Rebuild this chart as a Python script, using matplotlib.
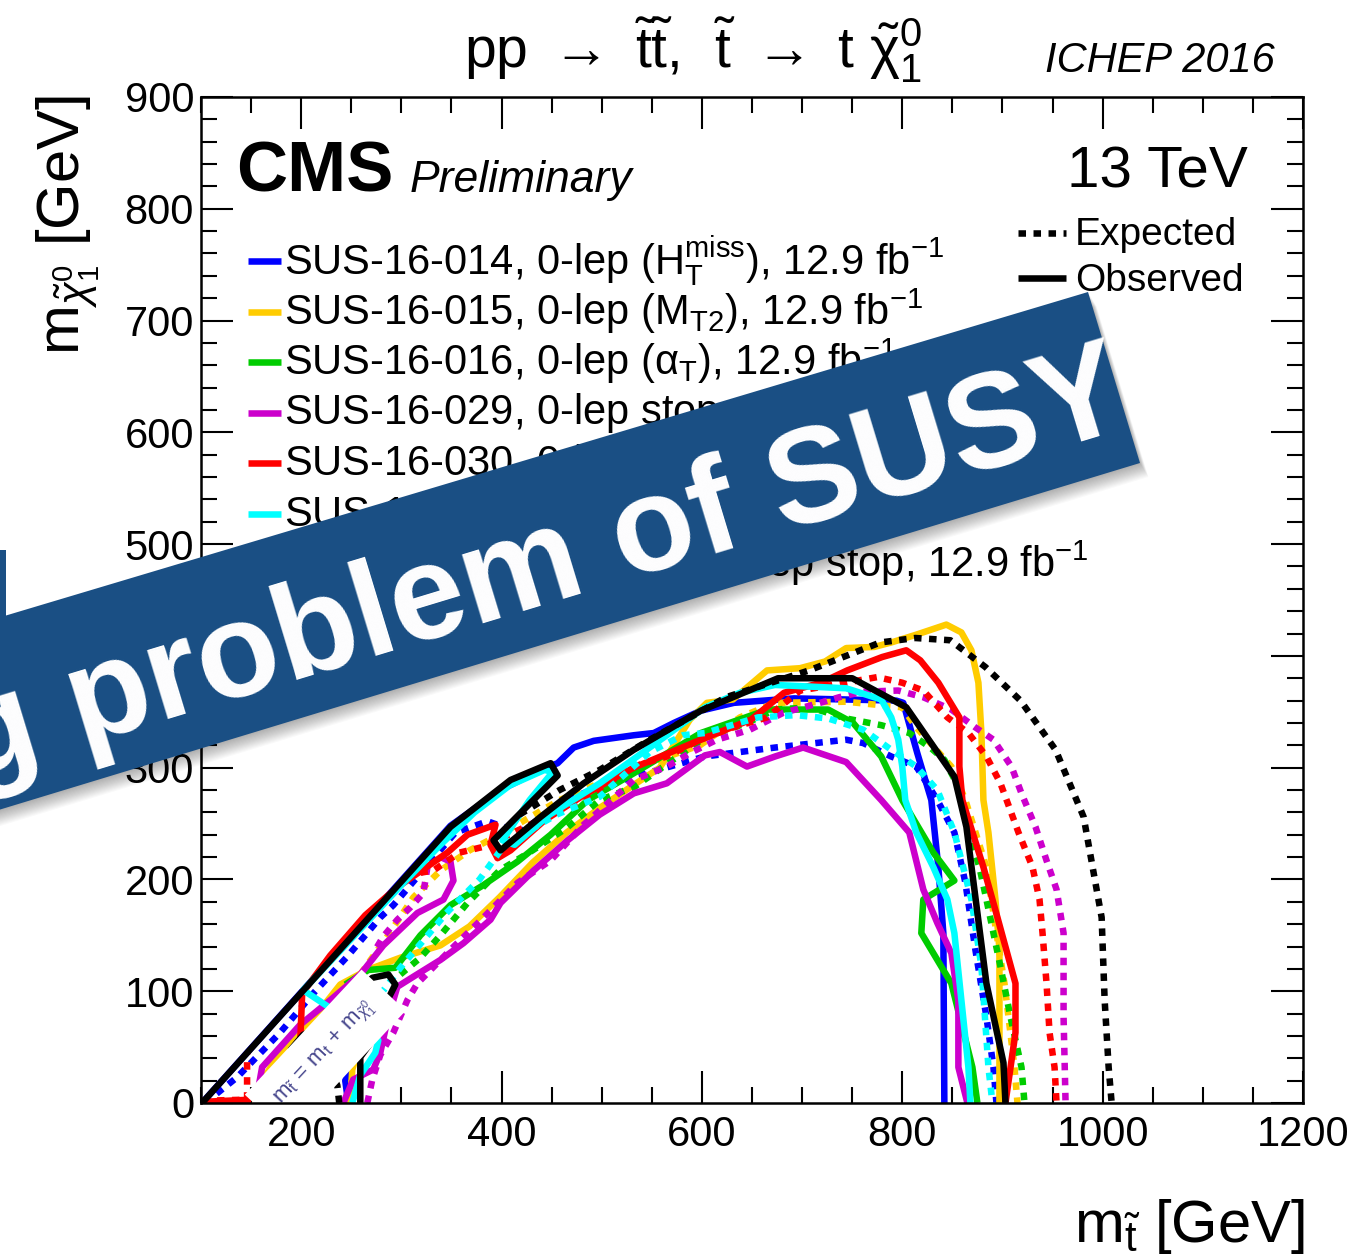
import matplotlib
matplotlib.use("Agg")
import matplotlib.pyplot as plt
import matplotlib.transforms as mtransforms
from matplotlib.lines import Line2D
from matplotlib.patches import Polygon
from matplotlib.ticker import MultipleLocator

W, H, DPI = 1367, 1257, 100

plt.rcParams['font.family'] = ['Liberation Sans', 'DejaVu Sans']
plt.rcParams['mathtext.fontset'] = 'custom'
plt.rcParams['mathtext.rm'] = 'Liberation Sans'
plt.rcParams['mathtext.it'] = 'Liberation Sans:italic'
plt.rcParams['mathtext.bf'] = 'Liberation Sans:bold'
plt.rcParams['mathtext.sf'] = 'Liberation Sans'

# ---------------- exclusion contours (m_stop, m_LSP) in GeV ----------------
# SUS-16-014 (blue)
blue_obs_x = [101, 349, 399, 439, 456, 472, 492, 532, 552, 572, 599, 632, 692, 794, 801, 815, 829, 836, 841, 842]
blue_obs_y = [0, 248, 280, 298, 304, 318, 324, 329, 331, 340, 351, 358, 362, 360, 358, 313, 271, 211, 152, 0]
blue_obs2_x = [247, 244, 251, 267]
blue_obs2_y = [0, 20, 43, 52]
blue_exp_x = [104, 136, 179, 212, 246, 279, 292, 329, 354, 386, 418, 465, 498, 533, 568, 603, 638, 673, 744,
              761, 789, 814, 835, 852, 863, 873, 884, 891, 894]
blue_exp_y = [0, 23, 63, 98, 131, 166, 177, 216, 242, 252, 242, 271, 283, 292, 301, 310, 314, 318, 325,
              322, 310, 301, 271, 242, 197, 137, 77, 32, 0]

# SUS-16-015 (yellow)
yellow_obs_x = [154, 166, 179, 209, 239, 266, 299, 339, 368, 398, 431, 465, 498, 531, 558, 588, 605, 631, 665,
                698, 723, 744, 772, 789, 814, 844, 859, 869, 876, 879, 881, 886, 893, 897, 897]
yellow_obs_y = [0, 27, 45, 72, 106, 119, 130, 141, 158, 184, 215, 242, 264, 284, 300, 343, 358, 361, 387,
                389, 395, 407, 408, 412, 419, 428, 421, 405, 376, 331, 271, 242, 182, 137, 0]
yellow_obs2_x = [249, 251, 257]
yellow_obs2_y = [0, 30, 47]
yellow_exp_x = [199, 216, 236, 259, 286, 312, 339, 368, 398, 458, 528, 598, 638, 673, 744, 800, 814, 849,
                863, 884, 894, 902, 912, 915]
yellow_exp_y = [56, 72, 97, 115, 149, 184, 208, 226, 240, 271, 298, 320, 345, 358, 359, 354, 336, 301,
                271, 211, 152, 107, 32, 0]

# SUS-16-016 (green)
green_obs_x = [244, 267, 294, 319, 349, 382, 416, 449, 486, 532, 599, 666, 726, 751, 779, 800, 831, 852,
               821, 819, 849, 870, 875]
green_obs_y = [106, 119, 121, 150, 177, 195, 216, 240, 271, 295, 331, 352, 352, 340, 310, 271, 224, 199,
               182, 152, 107, 32, 0]
green_exp_x = [299, 319, 339, 366, 398, 431, 465, 498, 533, 603, 645, 673, 708, 744, 779, 807, 828, 842,
               856, 866, 877, 884, 891, 898, 908, 919, 922]
green_exp_y = [115, 130, 150, 179, 208, 226, 246, 271, 283, 327, 340, 352, 354, 344, 338, 331, 318, 307,
               283, 242, 211, 182, 152, 122, 77, 32, 0]

# SUS-16-029 (magenta)
magenta_obs_x = [242, 252, 272, 279, 286, 296, 312, 339, 362, 389, 399, 432, 466, 498, 532, 565, 603, 618,
                 645, 673, 701, 744, 779, 807, 821, 835, 849, 856, 856, 865]
magenta_obs_y = [0, 21, 30, 45, 74, 104, 113, 128, 143, 164, 179, 208, 235, 258, 277, 286, 311, 314,
                 301, 310, 318, 305, 271, 242, 191, 161, 134, 92, 32, 0]
magenta_obs2_x = [157, 161, 176, 199, 229, 259, 282, 316, 342, 352, 349, 339]
magenta_obs2_y = [12, 32, 47, 70, 92, 115, 141, 170, 182, 199, 216, 220]
magenta_exp_x = [266, 271, 279, 292, 306, 316, 349, 382, 416, 449, 482, 532, 565, 588, 615, 648, 681, 718,
                 737, 761, 796, 821, 849, 873, 891, 909, 919, 933, 944, 954, 961, 961, 963]
magenta_exp_y = [0, 21, 43, 63, 92, 107, 137, 166, 197, 217, 249, 289, 301, 313, 325, 334, 349, 358,
                 363, 368, 369, 363, 352, 336, 325, 301, 277, 247, 217, 191, 152, 77, 0]
magenta_exp2_x = [326, 322, 309, 296, 282, 272]
magenta_exp2_y = [211, 188, 175, 164, 149, 134]

# SUS-16-030 (red)
red_obs_x = [199, 201, 229, 264, 296, 346, 366, 394, 389, 396, 409, 443, 483, 532, 599, 649, 682, 719, 745,
             780, 804, 818, 836, 857, 857, 860, 881, 895, 913, 913, 903]
red_obs_y = [54, 98, 132, 168, 193, 224, 240, 249, 231, 219, 226, 253, 276, 300, 325, 343, 367, 376, 387,
             399, 405, 396, 376, 345, 301, 271, 211, 166, 107, 63, 0]
red_obs2_x = [101, 150]
red_obs2_y = [1, 3]
red_exp_x = [319, 332, 358, 381, 438, 485, 532, 565, 598, 631, 665, 698, 718, 775, 800, 821, 845, 866, 884,
             898, 916, 930, 937, 940, 944, 947, 952, 954]
red_exp_y = [206, 208, 224, 229, 253, 274, 301, 310, 325, 336, 345, 369, 372, 381, 376, 369, 345, 331, 310,
             286, 242, 211, 182, 152, 107, 63, 32, 0]
red_exp2_x = [101, 146, 146]
red_exp2_y = [2, 3, 45]

# SUS-16-028 (cyan)
cyan_obs_x = [251, 259, 274, 277, 239, 202, 244, 299, 339, 373, 408, 443, 451, 428, 401, 413, 448, 498, 565,
              603, 638, 673, 744, 779, 789, 796, 800, 803, 814, 831, 845, 852, 859, 866, 868]
cyan_obs_y = [0, 25, 45, 56, 79, 101, 141, 194, 231, 260, 284, 298, 296, 271, 235, 231, 258, 286, 329,
              354, 367, 374, 371, 361, 345, 325, 301, 271, 242, 211, 182, 152, 92, 32, 0]
cyan_exp_x = [279, 299, 345, 378, 403, 428, 455, 498, 548, 581, 603, 656, 694, 726, 761, 789, 814, 835, 852,
              869, 879, 886, 890]
cyan_exp_y = [97, 121, 170, 200, 231, 244, 258, 274, 314, 329, 331, 345, 347, 344, 334, 316, 301, 280, 242,
              182, 122, 32, 0]

# combined 1-lep + 2-lep (black)
black_obs_x = [101, 349, 409, 449, 456, 392, 399, 439, 482, 532, 599, 676, 750, 804, 852, 864, 884, 901, 903]
black_obs_y = [0, 247, 289, 304, 293, 235, 226, 256, 286, 316, 351, 380, 380, 354, 292, 247, 107, 36, 0]
black_obs2_x = [259, 259, 271, 284, 294, 287, 271, 249, 229, 202, 189]
black_obs2_y = [0, 41, 56, 88, 106, 115, 112, 94, 72, 61, 47]
black_exp_x = [418, 458, 498, 548, 598, 624, 707, 778, 813, 848, 883, 918, 953, 981, 999, 1002, 1006, 1009]
black_exp_y = [258, 280, 298, 325, 350, 363, 387, 412, 416, 414, 390, 360, 316, 256, 166, 92, 32, 0]
black_exp2_x = [238, 236, 231]
black_exp2_y = [0, 16, 25]

legend_labels = [
    r"SUS-16-014, 0-lep (H$_{\mathrm{T}}^{\mathrm{miss}}$), 12.9 fb$^{\mathrm{-1}}$",
    r"SUS-16-015, 0-lep (M$_{\mathrm{T2}}$), 12.9 fb$^{\mathrm{-1}}$",
    r"SUS-16-016, 0-lep ($\mathrm{\alpha}_{\mathrm{T}}$), 12.9 fb$^{\mathrm{-1}}$",
    r"SUS-16-029, 0-lep stop, 12.9 fb$^{\mathrm{-1}}$",
    r"SUS-16-030, 0-lep (top tag), 12.9 fb$^{\mathrm{-1}}$",
    r"SUS-16-028, 1-lep stop, 12.9 fb$^{\mathrm{-1}}$",
    r"SUS-16-027, 1-lep and 2-lep stop, 12.9 fb$^{\mathrm{-1}}$",
]
legend_colors = ['#0000ff', '#ffcc00', '#00cc00', '#cc00cc', '#ff0000', '#00ffff', '#000000']

x_ticks = [200, 400, 600, 800, 1000, 1200]
y_ticks = [0, 100, 200, 300, 400, 500, 600, 700, 800, 900]

# ---------------- figure ----------------
fig = plt.figure(figsize=(W / DPI, H / DPI), dpi=DPI)
pix = mtransforms.Affine2D().scale(1.0 / W, -1.0 / H).translate(0, 1) + fig.transFigure

ax = fig.add_axes([201 / W, 1 - 1103 / H, (1303 - 201) / W, (1103 - 97) / H], zorder=1)
ax.set_xlim(100, 1200)
ax.set_ylim(0, 900)
ax.set_xticks(x_ticks)
ax.set_yticks(y_ticks)
ax.xaxis.set_minor_locator(MultipleLocator(50))
ax.yaxis.set_minor_locator(MultipleLocator(20))
ax.tick_params(which='both', direction='in', top=True, right=True, width=1.5,
               labelsize=30, colors='black')
ax.tick_params(which='major', length=23)
ax.tick_params(which='minor', length=11.5)
ax.tick_params(axis='y', pad=5)
ax.tick_params(axis='x', pad=9)
for s in ax.spines.values():
    s.set_linewidth(1.8)
    s.set_zorder(5)

LW = 4.7
DOT = (0, (1.15, 1.15))


def contour(x, y, color, dotted):
    ax.plot(x, y, color=color, lw=LW, ls=DOT if dotted else '-',
            dash_capstyle='butt', solid_capstyle='butt', zorder=2)


curves = [
    ('#0000ff', [(blue_exp_x, blue_exp_y)], [(blue_obs_x, blue_obs_y), (blue_obs2_x, blue_obs2_y)]),
    ('#ffcc00', [(yellow_exp_x, yellow_exp_y)], [(yellow_obs_x, yellow_obs_y), (yellow_obs2_x, yellow_obs2_y)]),
    ('#00cc00', [(green_exp_x, green_exp_y)], [(green_obs_x, green_obs_y)]),
    ('#cc00cc', [(magenta_exp_x, magenta_exp_y), (magenta_exp2_x, magenta_exp2_y)],
     [(magenta_obs_x, magenta_obs_y), (magenta_obs2_x, magenta_obs2_y)]),
    ('#ff0000', [(red_exp_x, red_exp_y), (red_exp2_x, red_exp2_y)],
     [(red_obs_x, red_obs_y), (red_obs2_x, red_obs2_y)]),
    ('#00ffff', [(cyan_exp_x, cyan_exp_y)], [(cyan_obs_x, cyan_obs_y)]),
    ('#000000', [(black_exp_x, black_exp_y), (black_exp2_x, black_exp2_y)],
     [(black_obs_x, black_obs_y), (black_obs2_x, black_obs2_y)]),
]
for color, exps, obss in curves:
    for x, y in exps:
        contour(x, y, color, True)
    for x, y in obss:
        contour(x, y, color, False)

# kinematic-limit label on a white box along the diagonal
ax.text(224, 45, r"$\mathrm{m}_{\tilde{\mathrm{t}}}\,=\,\mathrm{m}_{\mathrm{t}}\,+\,\mathrm{m}_{\tilde{\chi}^{0}_{1}}$",
        rotation=47, rotation_mode='anchor', ha='center', va='center', fontsize=16,
        color='#45458c', zorder=3, clip_on=True,
        bbox=dict(boxstyle='square,pad=0.8', fc='white', ec='none'))

# ---------------- axis titles and header texts ----------------
fig.text(1305, 1242, r"m$_{\tilde{\mathrm{t}}}$ [GeV]", transform=pix, ha='right', va='baseline', fontsize=43)
fig.text(80, 95, r"m$_{\tilde{\chi}^{0}_{1}}$ [GeV]", transform=pix, ha='right', va='baseline',
         rotation=90, rotation_mode='anchor', fontsize=43)
fig.text(464, 68, r"pp $\rightarrow$ $\tilde{\mathrm{t}}\tilde{\mathrm{t}}$,  $\tilde{\mathrm{t}}$ $\rightarrow$ t $\tilde{\mathrm{\chi}}^{0}_{1}$",
         transform=pix, ha='left', va='baseline', fontsize=41)
fig.text(1275, 72, "ICHEP 2016", transform=pix, ha='right', va='baseline', fontsize=30, style='italic')
fig.text(236, 192, "CMS", transform=pix, ha='left', va='baseline', fontsize=51, weight='bold')
fig.text(410, 192, "Preliminary", transform=pix, ha='left', va='baseline', fontsize=32, style='italic')
fig.text(1248, 187, "13 TeV", transform=pix, ha='right', va='baseline', fontsize=42)

# expected / observed key
fig.add_artist(Line2D([1018, 1066], [233, 233], transform=pix, color='black', lw=LW, ls=DOT,
                      dash_capstyle='butt'))
fig.add_artist(Line2D([1018, 1066], [278, 278], transform=pix, color='black', lw=LW, solid_capstyle='butt'))
fig.text(1075, 245, "Expected", transform=pix, ha='left', va='baseline', fontsize=28)
fig.text(1075, 291, "Observed", transform=pix, ha='left', va='baseline', fontsize=28)

# analysis legend
for i, (lab, col) in enumerate(zip(legend_labels, legend_colors)):
    yc = 261 + i * 50.5
    fig.add_artist(Line2D([248, 281], [yc, yc], transform=pix, color=col, lw=LW, solid_capstyle='butt'))
    fig.text(284, yc + 13, lab, transform=pix, ha='left', va='baseline', fontsize=30)

# ---------------- slanted banner on top ----------------
ov = fig.add_axes([0, 0, 1, 1], zorder=10)
ov.set_xlim(0, W)
ov.set_ylim(H, 0)
ov.axis('off')
ov.patch.set_alpha(0)

slope = 0.304
band = [(-60, 617 + 60 * slope), (1088, 292), (1140, 463), (-60, 463 + 1200 * slope)]
for k in range(1, 15):
    dx, dy = 0.6 * k, 1.0 * k
    ov.add_patch(Polygon([(x + dx, y + dy) for x, y in band], closed=True, fc='black', ec='none',
                         alpha=0.022, zorder=1))
ov.add_patch(Polygon(band, closed=True, fc='#1a4f84', ec='none', zorder=2))
ov.add_patch(Polygon([(0, 550), (6, 550), (6, 620), (0, 620)], closed=True, fc='#1a4f84', ec='none', zorder=2))
ov.text(1134, 426, "ng problem of SUSY", rotation=16.9, rotation_mode='anchor', ha='right', va='baseline',
        fontsize=97, weight='bold', color='white', zorder=3)

fig.savefig("out.png", dpi=DPI)
